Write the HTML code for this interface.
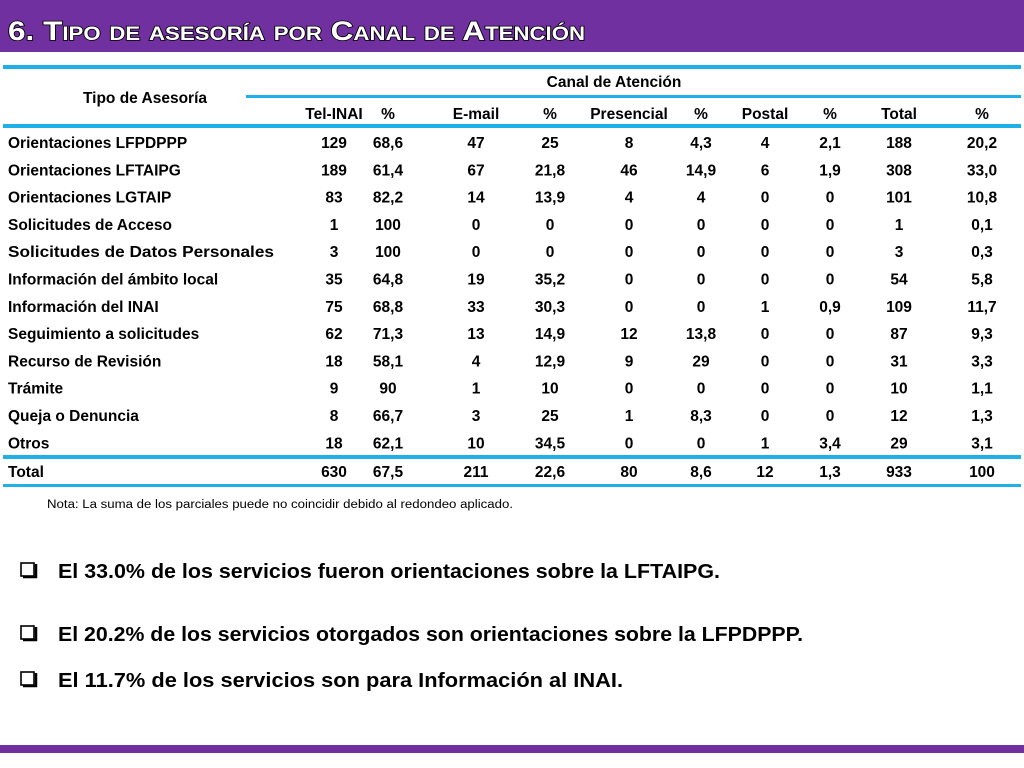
<!DOCTYPE html>
<html><head><meta charset="utf-8"><style>
html,body{margin:0;padding:0;background:#fff;width:1024px;height:768px;overflow:hidden}
svg text{font-family:"Liberation Sans",sans-serif}
</style></head><body>
<svg width="1024" height="768" viewBox="0 0 1024 768">
<rect x="0" y="0" width="1024" height="52" fill="#7030a0"/>
<text x="8" y="40" font-size="27" font-weight="bold" fill="#fff" stroke="#000" stroke-width="1.6" paint-order="stroke" style="font-variant:small-caps" textLength="577" lengthAdjust="spacingAndGlyphs">6. Tipo de asesoría por Canal de Atención</text>
<g fill="#1fb0e8">
<rect x="3" y="65" width="1018" height="4"/>
<rect x="246" y="95" width="775" height="3"/>
<rect x="3" y="124" width="1018" height="4"/>
<rect x="3" y="455" width="1018" height="4"/>
<rect x="3" y="484" width="1018" height="3"/>
</g>
<g id="tbl" font-weight="bold" font-size="15.5" fill="#000"></g>
<text x="47" y="508" font-size="11.5" fill="#000" textLength="466" lengthAdjust="spacingAndGlyphs">Nota: La suma de los parciales puede no coincidir debido al redondeo aplicado.</text>
<g id="bul" font-weight="bold" font-size="20" fill="#000"></g>
<rect x="0" y="745" width="1024" height="8" fill="#7030a0"/>
</svg>
<script>
const rowLabels=["Orientaciones LFPDPPP","Orientaciones LFTAIPG","Orientaciones LGTAIP","Solicitudes de Acceso","Solicitudes de Datos Personales","Información del ámbito local","Información del INAI","Seguimiento a solicitudes","Recurso de Revisión","Trámite","Queja o Denuncia","Otros"];
const colHeaders=["Tel-INAI","%","E-mail","%","Presencial","%","Postal","%","Total","%"];
const rows=[
["129","68,6","47","25","8","4,3","4","2,1","188","20,2"],
["189","61,4","67","21,8","46","14,9","6","1,9","308","33,0"],
["83","82,2","14","13,9","4","4","0","0","101","10,8"],
["1","100","0","0","0","0","0","0","1","0,1"],
["3","100","0","0","0","0","0","0","3","0,3"],
["35","64,8","19","35,2","0","0","0","0","54","5,8"],
["75","68,8","33","30,3","0","0","1","0,9","109","11,7"],
["62","71,3","13","14,9","12","13,8","0","0","87","9,3"],
["18","58,1","4","12,9","9","29","0","0","31","3,3"],
["9","90","1","10","0","0","0","0","10","1,1"],
["8","66,7","3","25","1","8,3","0","0","12","1,3"],
["18","62,1","10","34,5","0","0","1","3,4","29","3,1"]];
const totalRow=["630","67,5","211","22,6","80","8,6","12","1,3","933","100"];
const bullets=["El 33.0% de los servicios fueron orientaciones sobre la LFTAIPG.","El 20.2% de los servicios otorgados son orientaciones sobre la LFPDPPP.","El 11.7% de los servicios son para Información al INAI."];
const NS="http://www.w3.org/2000/svg";
const colX=[334,388,476,550,629,701,765,830,899,982];
const tbl=document.getElementById('tbl');
function t(p,x,y,s,anchor,name,len){const e=document.createElementNS(NS,'text');e.setAttribute('x',x);e.setAttribute('y',y);if(anchor)e.setAttribute('text-anchor',anchor);if(len){e.setAttribute('textLength',len);e.setAttribute('lengthAdjust','spacingAndGlyphs');}e.textContent=s;


p.appendChild(e);return e;}
t(tbl,145,103,"Tipo de Asesoría","middle","row-header-title");
t(tbl,614,87,"Canal de Atención","middle","channel-header");
colHeaders.forEach((h,i)=>t(tbl,colX[i],119,h,"middle","column-header"));
rows.forEach((r,j)=>{const y=148+j*27.3;
const lbl=rowLabels[j];t(tbl,8,y,lbl,null,"row-label",lbl==="Solicitudes de Datos Personales"?266:null);
r.forEach((v,i)=>t(tbl,colX[i],y,v,"middle","cell-value"));});
t(tbl,8,477,"Total",null,"total-label");
totalRow.forEach((v,i)=>t(tbl,colX[i],477,v,"middle","total-value"));
const bul=document.getElementById('bul');
const by=[578,641,687],bl=[662,745,565];
bullets.forEach((s,i)=>{
const r=document.createElementNS(NS,'rect');r.setAttribute('x',21);r.setAttribute('y',by[i]-15);r.setAttribute('width',13);r.setAttribute('height',13);r.setAttribute('fill','none');r.setAttribute('stroke','#000');r.setAttribute('stroke-width','1.6');


bul.appendChild(r);
const sh=document.createElementNS(NS,'path');sh.setAttribute('d',`M23 ${by[i]-1} H36 V${by[i]-14}`);sh.setAttribute('fill','none');sh.setAttribute('stroke','#000');sh.setAttribute('stroke-width','2.5');


bul.appendChild(sh);
t(bul,58,by[i],s,null,"bullet-text",bl[i]);});
</script>
</body></html>
